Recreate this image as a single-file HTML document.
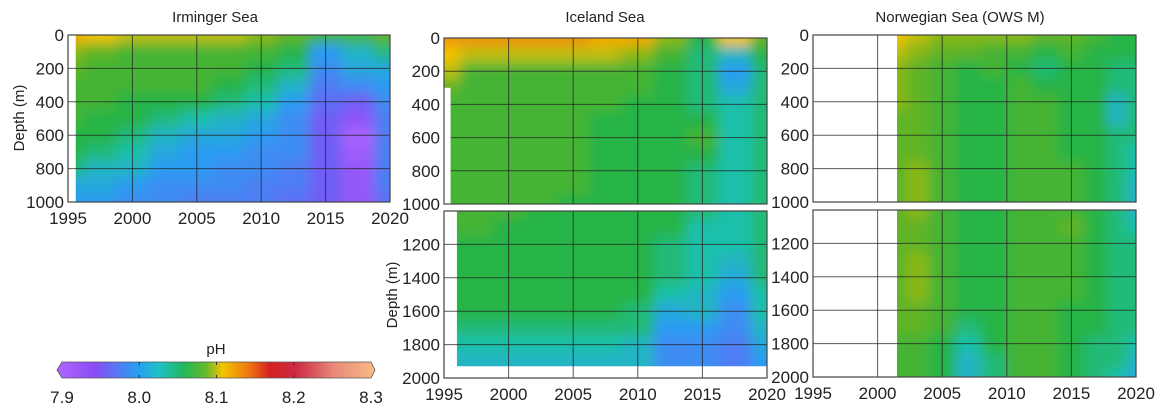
<!DOCTYPE html>
<html><head><meta charset="utf-8"><style>
body{margin:0;background:#fff;width:1170px;height:419px;overflow:hidden}
svg{display:block;font-family:"Liberation Sans",sans-serif}
.tk{font-size:17px;fill:#222}
.tt{font-size:15px;fill:#222}
</style></head><body>
<svg id="chart" width="1170" height="419" viewBox="0 0 1170 419">
<defs>
<filter id="bl" x="-5%" y="-5%" width="110%" height="110%"><feGaussianBlur stdDeviation="6"/></filter>
<linearGradient id="cbg" x1="0" x2="1" y1="0" y2="0">
<stop offset="0" stop-color="#b266ff"/><stop offset="0.12" stop-color="#8a4cf5"/><stop offset="0.25" stop-color="#2a9cf2"/><stop offset="0.32" stop-color="#1ec0c8"/><stop offset="0.4" stop-color="#22b85a"/><stop offset="0.47" stop-color="#6ab82a"/><stop offset="0.52" stop-color="#f2c400"/><stop offset="0.6" stop-color="#f07a10"/><stop offset="0.67" stop-color="#d42020"/><stop offset="0.75" stop-color="#cc2a44"/><stop offset="0.87" stop-color="#e88878"/><stop offset="1" stop-color="#f8bc88"/>
</linearGradient>
</defs>
</svg>
<script>
// ---- data ----
const depthsTop=[0,100,200,300,400,500,600,700,800,900,1000];
const depthsBot=[1000,1100,1200,1300,1400,1500,1600,1700,1800,1900,2000];
const yearsStd=[1995,1997.5,2000,2002.5,2005,2007.5,2010,2012.5,2015,2017.5,2020];
const yearsNor=[2001.5,2003,2005,2007,2009,2011,2013,2015,2017,2018.5,2020];
const xTickLabels=["1995","2000","2005","2010","2015","2020"];
const yTickTop=["0","200","400","600","800","1000"];
const yTickBot=["1200","1400","1600","1800","2000"];
const cbTicks=["7.9","8.0","8.1","8.2","8.3"];
const irmTop=[
[8.11,8.10,8.09,8.09,8.09,8.09,8.08,8.07,8.06,8.06,8.07],
[8.08,8.07,8.06,8.06,8.06,8.06,8.06,8.05,8.00,8.02,8.04],
[8.07,8.06,8.06,8.06,8.06,8.06,8.05,8.04,7.99,8.01,8.01],
[8.06,8.06,8.06,8.06,8.06,8.05,8.04,8.02,7.98,7.99,8.00],
[8.06,8.06,8.05,8.05,8.05,8.04,8.03,8.00,7.97,7.96,7.99],
[8.06,8.05,8.05,8.04,8.03,8.02,8.01,7.99,7.96,7.94,7.98],
[8.05,8.05,8.04,8.02,8.01,8.01,8.00,7.99,7.96,7.91,7.98],
[8.05,8.04,8.03,8.01,8.00,8.00,7.99,7.99,7.96,7.92,7.98],
[8.04,8.02,8.02,8.00,8.00,7.99,7.99,7.98,7.96,7.93,7.98],
[8.01,8.01,8.00,7.99,7.99,7.99,7.98,7.98,7.96,7.93,7.98],
[8.00,8.00,7.99,7.99,7.98,7.98,7.98,7.97,7.96,7.93,7.97]];
const iceTop=[
[8.12,8.12,8.12,8.12,8.12,8.11,8.11,8.08,8.05,8.10,8.07],
[8.10,8.09,8.09,8.09,8.09,8.09,8.08,8.06,8.04,8.02,8.05],
[8.09,8.06,8.06,8.06,8.06,8.06,8.06,8.05,8.04,8.00,8.04],
[8.07,8.06,8.06,8.06,8.06,8.06,8.06,8.05,8.04,8.01,8.04],
[8.06,8.06,8.06,8.06,8.06,8.06,8.05,8.05,8.04,8.03,8.04],
[8.06,8.06,8.06,8.06,8.06,8.05,8.05,8.05,8.05,8.03,8.04],
[8.06,8.06,8.06,8.06,8.06,8.05,8.05,8.05,8.06,8.03,8.04],
[8.06,8.06,8.06,8.06,8.06,8.05,8.05,8.05,8.05,8.03,8.04],
[8.06,8.06,8.06,8.06,8.06,8.05,8.05,8.05,8.04,8.03,8.04],
[8.06,8.06,8.06,8.06,8.06,8.05,8.05,8.05,8.04,8.03,8.04],
[8.06,8.06,8.06,8.06,8.05,8.05,8.05,8.05,8.04,8.03,8.04]];
const iceBot=[
[8.06,8.06,8.06,8.05,8.05,8.05,8.05,8.05,8.04,8.03,8.04],
[8.06,8.06,8.05,8.05,8.05,8.05,8.05,8.05,8.03,8.03,8.04],
[8.05,8.05,8.05,8.05,8.05,8.05,8.05,8.04,8.03,8.03,8.04],
[8.05,8.05,8.05,8.05,8.05,8.05,8.05,8.04,8.03,8.02,8.04],
[8.05,8.05,8.05,8.05,8.05,8.05,8.05,8.04,8.03,8.01,8.04],
[8.05,8.05,8.05,8.05,8.05,8.05,8.05,8.03,8.02,8.00,8.03],
[8.05,8.05,8.05,8.05,8.05,8.05,8.04,8.01,8.02,7.99,8.03],
[8.04,8.04,8.04,8.04,8.04,8.04,8.04,8.00,8.00,7.99,8.02],
[8.03,8.03,8.03,8.03,8.03,8.03,8.02,7.99,7.99,7.98,8.01],
[8.02,8.02,8.02,8.02,8.02,8.02,8.02,7.99,7.99,7.98,8.00],
[null,null,null,null,null,null,null,null,null,null,null]];
const norTop=[
[8.10,8.09,8.08,8.08,8.08,8.08,8.07,8.07,8.06,8.05,8.05],
[8.09,8.08,8.07,8.07,8.06,8.06,8.05,8.06,8.05,8.05,8.05],
[8.08,8.07,8.06,8.05,8.06,8.05,8.04,8.05,8.05,8.04,8.04],
[8.08,8.07,8.06,8.05,8.05,8.06,8.05,8.05,8.05,8.04,8.04],
[8.08,8.07,8.06,8.05,8.05,8.06,8.06,8.05,8.05,8.02,8.04],
[8.07,8.07,8.06,8.05,8.05,8.06,8.06,8.05,8.05,8.02,8.04],
[8.07,8.07,8.06,8.05,8.05,8.06,8.06,8.05,8.05,8.04,8.04],
[8.07,8.07,8.06,8.05,8.05,8.06,8.06,8.05,8.05,8.04,8.03],
[8.07,8.08,8.06,8.05,8.05,8.06,8.06,8.06,8.05,8.04,8.03],
[8.07,8.08,8.06,8.05,8.05,8.06,8.06,8.06,8.05,8.04,8.02],
[8.07,8.08,8.06,8.05,8.05,8.06,8.06,8.06,8.05,8.04,8.02]];
const norBot=[
[8.07,8.08,8.06,8.05,8.05,8.06,8.06,8.06,8.05,8.04,8.02],
[8.07,8.07,8.06,8.05,8.05,8.06,8.06,8.07,8.05,8.04,8.03],
[8.07,8.07,8.06,8.05,8.05,8.06,8.06,8.06,8.05,8.04,8.04],
[8.07,8.08,8.06,8.05,8.05,8.06,8.06,8.06,8.05,8.04,8.04],
[8.07,8.08,8.06,8.05,8.05,8.06,8.06,8.06,8.05,8.04,8.04],
[8.07,8.08,8.06,8.05,8.05,8.06,8.06,8.06,8.05,8.04,8.04],
[8.07,8.07,8.06,8.05,8.05,8.06,8.06,8.05,8.05,8.04,8.04],
[8.07,8.07,8.06,8.04,8.05,8.06,8.06,8.05,8.05,8.04,8.04],
[8.06,8.06,8.05,8.03,8.05,8.06,8.06,8.05,8.04,8.04,8.03],
[8.06,8.06,8.05,8.02,8.04,8.06,8.06,8.05,8.04,8.04,8.02],
[8.06,8.06,8.05,8.02,8.04,8.06,8.06,8.05,8.04,8.03,8.01]];

// ---- colormap ----
const cmStops=[[7.90,[178,102,255]],[7.95,[130,80,245]],[8.00,[42,156,242]],[8.03,[30,192,170]],[8.05,[40,180,70]],[8.075,[110,180,30]],[8.10,[242,196,0]],[8.13,[240,122,16]],[8.17,[212,32,32]],[8.20,[204,42,68]],[8.25,[232,136,120]],[8.30,[248,188,136]]];
function cmap(v){
  if(v<=cmStops[0][0])return 'rgb('+cmStops[0][1]+')';
  for(let i=1;i<cmStops.length;i++){
    if(v<=cmStops[i][0]){const a=cmStops[i-1],b=cmStops[i];const t=(v-a[0])/(b[0]-a[0]);
      return 'rgb('+a[1].map((c,k)=>Math.round(c+(b[1][k]-c)*t)).join(',')+')';}
  }
  return 'rgb('+cmStops[cmStops.length-1][1]+')';
}
const NS='http://www.w3.org/2000/svg';
const svg=document.getElementById('chart');
function mk(tag,attrs,parent){const e=document.createElementNS(NS,tag);for(const k in attrs)e.setAttribute(k,attrs[k]);(parent||svg).appendChild(e);return e;}

let clipId=0;
function panel(p){
  const xs=y=>p.x0+(y-1995)/25*(p.x1-p.x0);
  const ys=d=>p.y0+(d-p.d0)/(p.d1-p.d0)*(p.y1-p.y0);
  const g=mk('g',{});
  
  
  const cid='c'+(clipId++);
  const cp=mk('clipPath',{id:cid},g);
  const cx0=xs(p.xStart), cy1=p.yEnd!=null?ys(p.yEnd):p.y1;
  mk('rect',{x:cx0,y:p.y0,width:p.x1-cx0,height:cy1-p.y0},cp);
  const cg=mk('g',{'clip-path':'url(#'+cid+')'},g);
  const hg=mk('g',{filter:'url(#bl)'},cg);
  const yrs=p.years, ds=p.depths;
  for(let r=0;r<ds.length;r++){
    for(let c=0;c<yrs.length;c++){
      let v=p.data[r][c]; if(v==null) v=p.data[r-1][c];
      const xa=c==0?xs(yrs[0])-30:(xs(yrs[c-1])+xs(yrs[c]))/2;
      const xb=c==yrs.length-1?xs(yrs[c])+30:(xs(yrs[c])+xs(yrs[c+1]))/2;
      const ya=r==0?ys(ds[0])-30:(ys(ds[r-1])+ys(ds[r]))/2;
      const yb=r==ds.length-1?ys(ds[r])+30:(ys(ds[r])+ys(ds[r+1]))/2;
      const cell=mk('rect',{x:xa,y:ya,width:xb-xa+0.5,height:yb-ya+0.5,fill:cmap(v)},hg);
      
      
    }
  }
  for(let yr=2000;yr<2020;yr+=5) mk('line',{x1:xs(yr),x2:xs(yr),y1:p.y0,y2:p.y1,stroke:'#222','stroke-width':1,opacity:0.75},g);
  for(let d=p.d0+200;d<p.d1;d+=200) mk('line',{x1:p.x0,x2:p.x1,y1:ys(d),y2:ys(d),stroke:'#222','stroke-width':1,opacity:0.75},g);
  const fr=mk('rect',{x:p.x0,y:p.y0,width:p.x1-p.x0,height:p.y1-p.y0,fill:'none',stroke:'#444','stroke-width':1.2},g);
  
  
  p.yLabels.forEach(l=>{const t=mk('text',{x:p.x0-4,y:ys(+l)+6,'text-anchor':'end',class:'tk'},g);t.textContent=l;
    
    });
  if(p.xLabels){p.xLabels.forEach(l=>{const t=mk('text',{x:xs(+l),y:p.y1+22,'text-anchor':'middle',class:'tk'},g);t.textContent=l;
    
    });}
}
function txt(x,y,s,cls,name,rot){const t=mk('text',{x:x,y:y,'text-anchor':'middle',class:cls});if(rot)t.setAttribute('transform','rotate(-90 '+x+' '+y+')');t.textContent=s;
  
  }

panel({name:'irminger-panel',x0:68,x1:390,y0:35,y1:202,d0:0,d1:1000,xStart:1995.6,years:yearsStd,depths:depthsTop,data:irmTop,yLabels:yTickTop,xLabels:xTickLabels});
panel({name:'iceland-top-panel',x0:444,x1:767,y0:38,y1:204,d0:0,d1:1000,xStart:1995,years:yearsStd,depths:depthsTop,data:iceTop,yLabels:yTickTop,xLabels:null});
panel({name:'iceland-bottom-panel',x0:444,x1:767,y0:211,y1:378,d0:1000,d1:2000,xStart:1996,yEnd:1930,years:yearsStd,depths:depthsBot,data:iceBot,yLabels:yTickBot,xLabels:xTickLabels});
panel({name:'norwegian-top-panel',x0:813,x1:1136,y0:35,y1:202,d0:0,d1:1000,xStart:2001.5,years:yearsNor,depths:depthsTop,data:norTop,yLabels:yTickTop,xLabels:null});
panel({name:'norwegian-bottom-panel',x0:813,x1:1136,y0:210,y1:377,d0:1000,d1:2000,xStart:2001.5,years:yearsNor,depths:depthsBot,data:norBot,yLabels:yTickBot,xLabels:xTickLabels});
mk('rect',{x:444.6,y:38+0.3*166,width:6,height:166*0.7-0.6,fill:'#fff'});

txt(215,22,'Irminger Sea','tt','irminger-title');
txt(605,22,'Iceland Sea','tt','iceland-title');
txt(960,22,'Norwegian Sea (OWS M)','tt','norwegian-title');
txt(24,118,'Depth (m)','tt','y-axis-title-irminger',true);
txt(397,295,'Depth (m)','tt','y-axis-title-iceland',true);

const cbx0=62,cbx1=371;
const bar=mk('path',{d:`M${cbx0},362 L${cbx1},362 L${cbx1+4},370 L${cbx1},378 L${cbx0},378 L${cbx0-5},370 Z`,fill:'url(#cbg)',stroke:'#555','stroke-width':0.8});


txt(216,354,'pH','tt','colorbar-title');
cbTicks.forEach((l,i)=>{const x=cbx0+(+l-7.9)/0.4*(cbx1-cbx0);
  if(i>0&&i<cbTicks.length-1){mk('line',{x1:x,x2:x,y1:362,y2:365,stroke:'#333'});mk('line',{x1:x,x2:x,y1:375,y2:378,stroke:'#333'});}
  txt(x,403,l,'tk','colorbar-tick-label');});
</script>
</body></html>
